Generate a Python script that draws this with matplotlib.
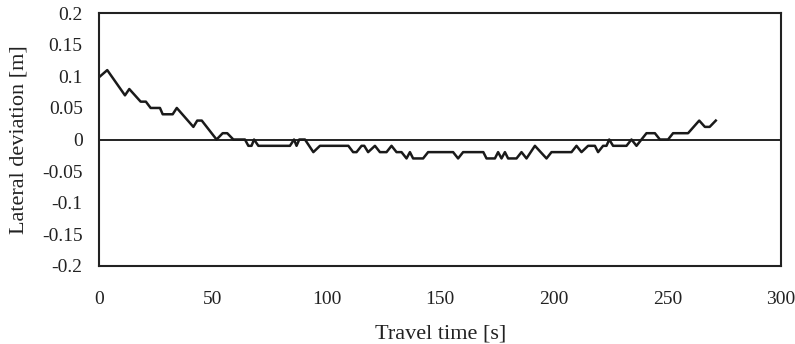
import matplotlib
matplotlib.use("Agg")
import matplotlib.pyplot as plt

time_s = [0.3, 3.5, 11.3, 13.2, 18.2, 20.5, 22.6, 26.7, 27.9, 32.3, 34.1, 41.4, 43.1, 45.1,
          51.6, 54.3, 56.3, 59.0, 64.1, 65.6, 67.0, 68.1, 70.0, 83.9, 85.7, 86.8, 88.0,
          90.5, 94.2, 97.1, 109.6, 111.7, 113.2, 115.4, 116.6, 118.3, 121.3, 123.5, 126.4,
          128.6, 130.8, 133.0, 135.2, 136.7, 138.1, 142.5, 144.7, 155.7, 157.9, 160.1,
          169.0, 170.4, 174.1, 175.5, 177.0, 178.5, 179.9, 183.6, 185.8, 188.0, 191.7,
          196.8, 199.0, 207.8, 210.0, 212.2, 215.1, 218.1, 219.5, 221.7, 223.2, 224.4,
          226.1, 232.0, 234.2, 236.4, 238.6, 240.8, 244.5, 246.7, 250.3, 252.5, 259.1,
          264.0, 266.5, 268.6, 271.3]
deviation_m = [0.10, 0.11, 0.07, 0.08, 0.06, 0.06, 0.05, 0.05, 0.04, 0.04, 0.05, 0.02, 0.03, 0.03,
               0.00, 0.01, 0.01, 0.00, 0.00, -0.01, -0.01, 0.00, -0.01, -0.01, 0.00, -0.01, 0.00,
               0.00, -0.02, -0.01, -0.01, -0.02, -0.02, -0.01, -0.01, -0.02, -0.01, -0.02, -0.02,
               -0.01, -0.02, -0.02, -0.03, -0.02, -0.03, -0.03, -0.02, -0.02, -0.03, -0.02,
               -0.02, -0.03, -0.03, -0.02, -0.03, -0.02, -0.03, -0.03, -0.02, -0.03, -0.01,
               -0.03, -0.02, -0.02, -0.01, -0.02, -0.01, -0.01, -0.02, -0.01, -0.01, 0.00,
               -0.01, -0.01, 0.00, -0.01, 0.00, 0.01, 0.01, 0.00, 0.00, 0.01, 0.01,
               0.03, 0.02, 0.02, 0.03]

x_ticks = [0, 50, 100, 150, 200, 250, 300]
y_ticks = [-0.2, -0.15, -0.1, -0.05, 0, 0.05, 0.1, 0.15, 0.2]
y_tick_labels = ["-0.2", "-0.15", "-0.1", "-0.05", "0", "0.05", "0.1", "0.15", "0.2"]

plt.rcParams['font.family'] = ['Liberation Serif', 'DejaVu Serif']

fig = plt.figure(figsize=(7.95, 3.44), dpi=100)
ax = fig.add_axes([0.1249, 0.2276, 0.9824 - 0.1249, 0.9613 - 0.2276])

ax.axhline(0, color='#111111', lw=1.3, zorder=1)
ax.plot(time_s, deviation_m, color='#1a1a1a', lw=1.8, zorder=2)

ax.set_xlim(0, 300)
ax.set_ylim(-0.2, 0.2)
ax.set_xticks(x_ticks)
ax.set_xticklabels([str(v) for v in x_ticks])
ax.set_yticks(y_ticks)
ax.set_yticklabels(y_tick_labels)
ax.tick_params(axis='both', length=0, labelsize=14, colors='#222222')
ax.tick_params(axis='x', pad=18)
ax.tick_params(axis='y', pad=12)

for s in ax.spines.values():
    s.set_linewidth(1.5)
    s.set_color('#222222')

ax.set_xlabel("Travel time [s]", fontsize=16, labelpad=12, color='#222222')
ax.set_ylabel("Lateral deviation [m]", fontsize=16, labelpad=10, color='#222222')

fig.savefig("out.png", dpi=100)
